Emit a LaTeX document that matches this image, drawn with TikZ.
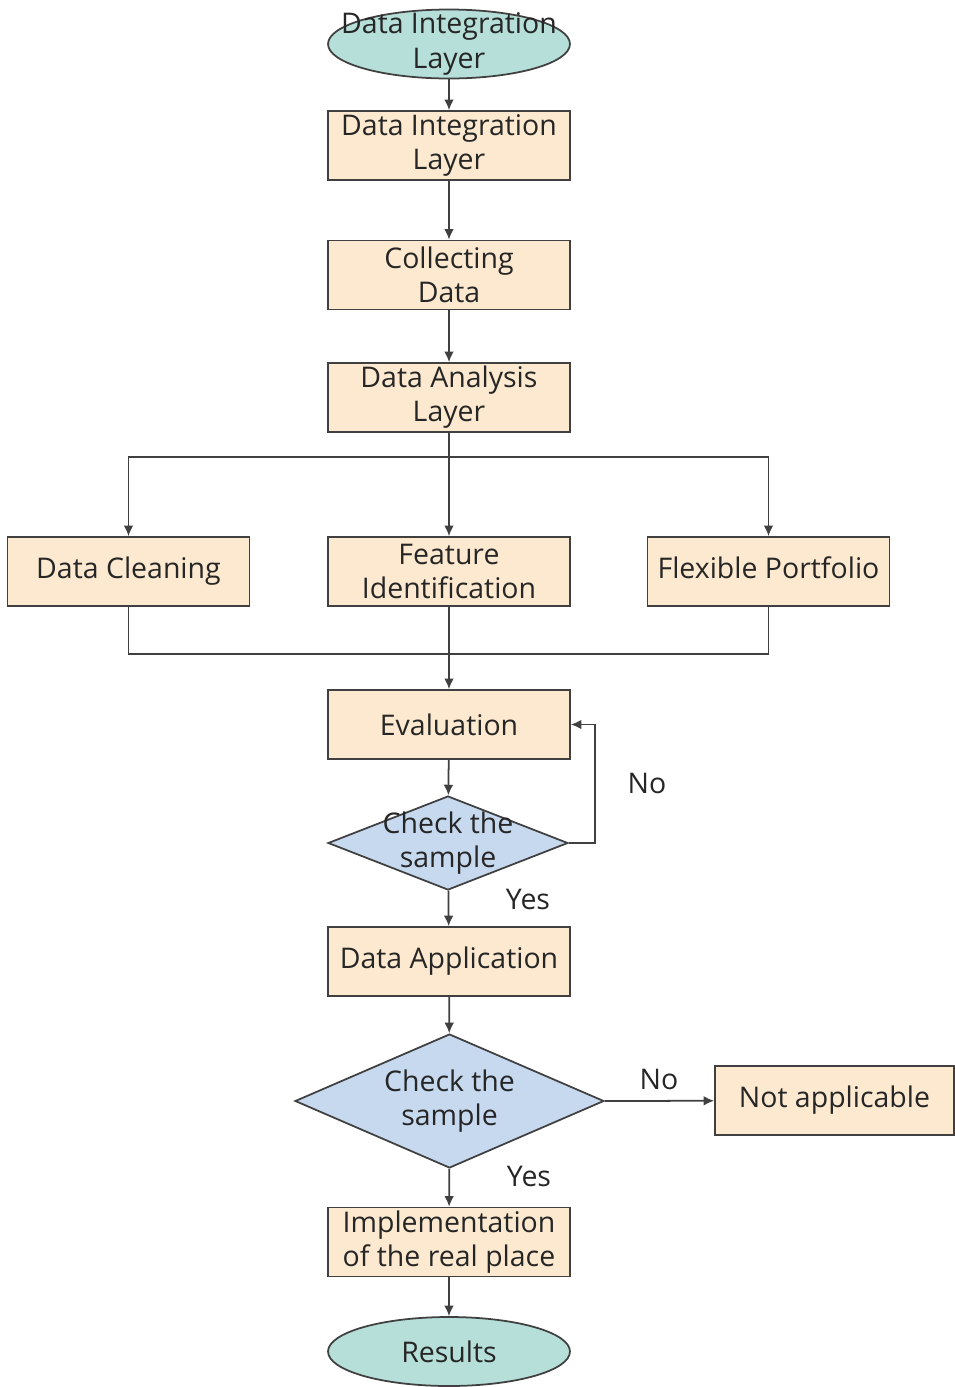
\documentclass[tikz,border=0pt]{standalone}
\usepackage{fontspec}
\setmainfont{Open Sans}
\usetikzlibrary{shapes.geometric, arrows.meta}
\definecolor{boxfill}{HTML}{FCE9CF}
\definecolor{endfill}{HTML}{B5DFD8}
\definecolor{chkfill}{HTML}{C6D9EF}
\definecolor{linegray}{HTML}{404040}
\tikzset{
    base/.style = {draw = linegray, line width = 1pt, text = black!85, align = center,
        font = \fontsize{16.2}{19.4}\selectfont},
    stepbox/.style = {base, rectangle, fill = boxfill, minimum width = 4.84cm, minimum height = 1.38cm, inner sep = 0pt},
    terminal/.style = {base, ellipse, fill = endfill, minimum width = 4.84cm, minimum height = 1.38cm, inner sep = 0pt},
    decision/.style = {base, diamond, fill = chkfill, inner sep = 0pt},
    arr/.style = {-{Latex[length = 6pt, width = 5.5pt]}, draw = linegray, line width = 1pt},
    tag/.style = {text = black!85, font = \fontsize{16.2}{19.4}\selectfont}
}
\begin{document}
\begin{tikzpicture}[x = 0.02cm, y = -0.02cm]
        \useasboundingbox (0, 0) rectangle (954, 1387);
        \node[terminal, label = {[base, draw = none]center:Data Integration\\Layer}] (start) at (449, 44) {};
        \node[stepbox] (integ) at (449, 145.5) {Data Integration\\Layer};
        \node[stepbox] (collect) at (449, 275) {Collecting\\Data};
        \node[stepbox] (analysis) at (449, 397.5) {Data Analysis\\Layer};

        \node[stepbox] (clean) at (128.5, 571.5) {Data Cleaning};
        \node[stepbox] (feature) at (449, 571.5) {Feature\\Identification};
        \node[stepbox] (flex) at (768.5, 571.5) {Flexible Portfolio\vphantom{g}};

        \node[stepbox] (eval) at (449, 724.5) {Evaluation};
        \node[decision, minimum width = 4.8cm, minimum height = 1.88cm,
            label = {[base, draw = none]center:Check the\\sample}] (check1) at (448, 843) {};
        \node[stepbox] (apply) at (449, 961.5) {Data Application};
        \node[decision, minimum width = 6.18cm, minimum height = 2.68cm,
            label = {[base, draw = none]center:Check the\\sample}] (check2) at (449.5, 1101) {};
        \node[stepbox, minimum width = 4.78cm] (notapp) at (834.5, 1100.5) {Not applicable};
        \node[stepbox] (impl) at (449, 1242) {Implementation\\of the real place};
        \node[terminal] (result) at (449, 1351.5) {Results};

        \coordinate (split) at (449, 457);
        \coordinate (merge) at (449, 654);

        \draw[arr] (start) -- (integ);
        \draw[arr] (integ) -- (collect);
        \draw[arr] (collect) -- (analysis);
        \draw[draw = linegray, line width = 1pt] (analysis) -- (split);
        \draw[arr] (split) -| (clean);
        \draw[arr] (split) -- (feature);
        \draw[arr] (split) -| (flex);
        \draw[draw = linegray, line width = 1pt] (clean) |- (merge);
        \draw[draw = linegray, line width = 1pt] (flex) |- (merge);
        \draw[draw = linegray, line width = 1pt] (feature) -- (merge);
        \draw[arr] (merge) -- (eval);
        \draw[arr] (eval) -- (check1);
        \draw[arr] (check1.east) -- ++(26, 0) |- (eval.east);
        \draw[arr] (check1) -- (apply);
        \draw[arr] (apply) -- (check2);
        \draw[arr] (check2.east) -- (notapp);
        \draw[arr] (check2) -- (impl);
        \draw[arr] (impl) -- (result);

        \node[tag] (no1) at (647, 783) {No};
        \node[tag] (yes1) at (528, 899) {Yes};
        \node[tag] (no2) at (659, 1079) {No};
        \node[tag] (yes2) at (529, 1176) {Yes};
    \end{tikzpicture}
\end{document}
